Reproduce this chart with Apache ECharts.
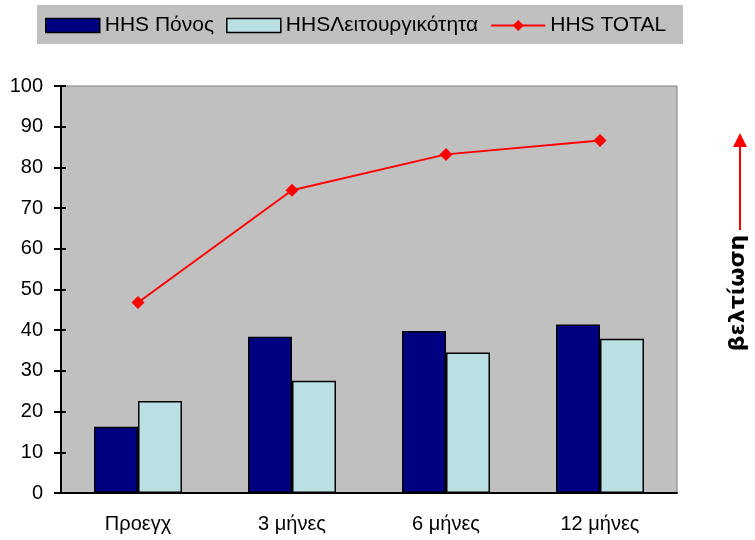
<!DOCTYPE html>
<html>
<head>
<meta charset="utf-8">
<script src="https://cdn.jsdelivr.net/npm/echarts@6/dist/echarts.min.js"></script>
<style>
  html, body { margin: 0; padding: 0; background: #fff; }
  #chart { width: 755px; height: 540px; }
</style>
</head>
<body>
<div id="chart"></div>
<script>
// data
const categories = ['Προεγχ', '3 μήνες', '6 μήνες', '12 μήνες'];
const painValues = [16.3, 38.4, 39.8, 41.4];
const functionValues = [22.6, 27.6, 34.5, 37.9];
const totalValues = [46.8, 74.4, 83.2, 86.6];
const seriesNames = ['HHS Πόνος', 'HHSΛειτουργικότητα', 'HHS TOTAL'];

const font = '"Liberation Sans", Arial, sans-serif';
const chart = echarts.init(document.getElementById('chart'));

chart.setOption({
  animation: false,
  textStyle: { fontFamily: font },
  grid: {
    left: 61, right: 78, top: 86, bottom: 47,
    show: true,
    backgroundColor: '#c0c0c0',
    borderColor: '#808080',
    borderWidth: 1
  },
  legend: {
    left: 40, top: 10,
    itemWidth: 54, itemHeight: 14,
    itemGap: 12,
    textStyle: { fontSize: 21, color: '#000', fontFamily: font },
    data: [
      { name: seriesNames[0], icon: 'rect', itemStyle: { borderColor: '#000', borderWidth: 1.5 } },
      { name: seriesNames[1], icon: 'rect', itemStyle: { borderColor: '#000', borderWidth: 1.5 } },
      { name: seriesNames[2] }
    ]
  },
  xAxis: [
    {
      type: 'category',
      data: categories,
      axisLine: { lineStyle: { color: '#000', width: 2 } },
      axisTick: { length: 7, lineStyle: { color: '#000', width: 2 } },
      axisLabel: { color: '#000', fontSize: 20, margin: 21, fontFamily: font },
      splitLine: { show: false }
    },
    {
      type: 'category',
      data: categories,
      position: 'bottom',
      axisLine: { show: false },
      axisTick: { inside: true, length: 5, lineStyle: { color: '#000', width: 2 } },
      axisLabel: { show: false }
    }
  ],
  yAxis: [
    {
      type: 'value',
      min: 0, max: 100, interval: 10,
      axisLine: { show: true, lineStyle: { color: '#000', width: 2 } },
      axisTick: { show: true, length: 7, lineStyle: { color: '#000', width: 2 } },
      axisLabel: { color: '#000', fontSize: 20, margin: 18, fontFamily: font },
      splitLine: { show: false }
    },
    {
      type: 'value',
      position: 'left',
      min: 0, max: 100, interval: 10,
      axisLine: { show: false },
      axisTick: { show: true, inside: true, length: 5, lineStyle: { color: '#000', width: 2 } },
      axisLabel: { show: false },
      splitLine: { show: false }
    }
  ],
  graphic: [
    {
      type: 'rect', z: -10,
      shape: { x: 37, y: 5, width: 646, height: 39 },
      style: { fill: '#c0c0c0' }
    },
    {
      type: 'line',
      shape: { x1: 740, y1: 230, x2: 740, y2: 146 },
      style: { stroke: '#ff0000', lineWidth: 2 }
    },
    {
      type: 'polygon',
      shape: { points: [[733, 147], [747, 147], [740, 133]] },
      style: { fill: '#ff0000' }
    },
    {
      type: 'text',
      x: 738, y: 293,
      rotation: Math.PI / 2,
      style: {
        text: 'βελτίωση',
        fontSize: 22, fontWeight: 'bold', fontFamily: '"DejaVu Sans", sans-serif',
        fill: '#000', align: 'center', verticalAlign: 'middle'
      }
    }
  ],
  series: [
    {
      name: seriesNames[0],
      type: 'bar',
      data: painValues,
      barWidth: 44,
      barGap: '0%',
      itemStyle: { color: '#000080', borderColor: '#000', borderWidth: 1.5 }
    },
    {
      name: seriesNames[1],
      type: 'bar',
      data: functionValues,
      barWidth: 44,
      barGap: '0%',
      itemStyle: { color: '#bbe0e3', borderColor: '#000', borderWidth: 1.5 }
    },
    {
      name: seriesNames[2],
      type: 'line',
      data: totalValues,
      symbol: 'diamond',
      symbolSize: 13,
      lineStyle: { color: '#ff0000', width: 2 },
      itemStyle: { color: '#ff0000' },
      z: 5
    }
  ]
});
</script>
</body>
</html>
